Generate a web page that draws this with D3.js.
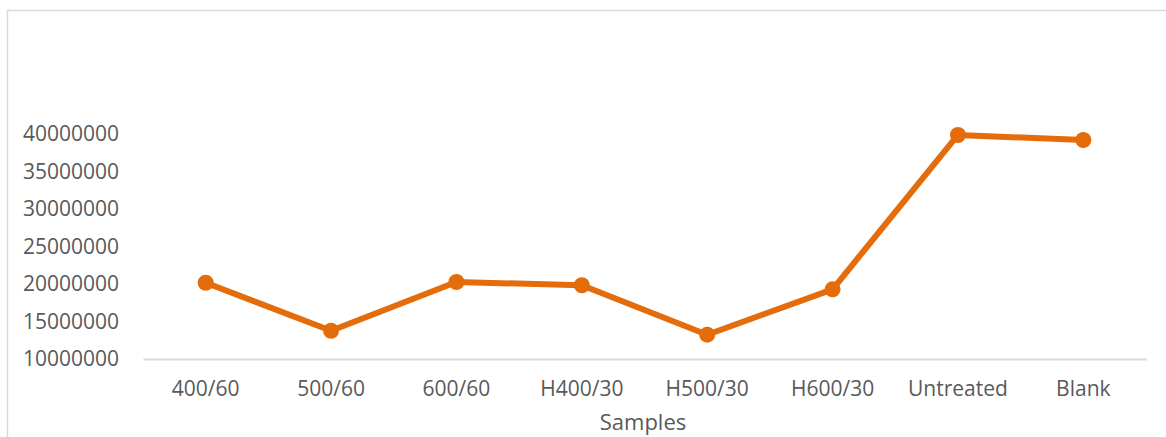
<!DOCTYPE html>
<html>
<head>
<meta charset="utf-8">
<script src="https://cdn.jsdelivr.net/npm/d3@7"></script>
<style>
  html, body { margin: 0; padding: 0; background: #fff; }
  svg { display: block; }
  text { font-family: "Open Sans", sans-serif; fill: #595959; }
</style>
</head>
<body>
<svg id="chart" width="1166" height="437"></svg>
<script>
// Sample names along the x axis
const categories = ["400/60", "500/60", "600/60", "H400/30", "H500/30", "H600/30", "Untreated", "Blank"];
// Measured value per sample
const values = [20170000, 13770000, 20270000, 19830000, 13240000, 19290000, 39870000, 39200000];
// Y axis tick values
const yTicks = [10000000, 15000000, 20000000, 25000000, 30000000, 35000000, 40000000];

const svg = d3.select("#chart");
const color = "#E46C0A";

// Outer chart frame
svg.append("rect")
  .attr("x", 7.5).attr("y", 10.5)
  .attr("width", 1200).attr("height", 500)
  .attr("fill", "none").attr("stroke", "#d9d9d9").attr("stroke-width", 1.5);

const x = d3.scaleBand().domain(categories).range([143, 1146]);
const y = d3.scaleLinear().domain([10000000, 40000000]).range([359, 134]);
const cx = d => x(d) + x.bandwidth() / 2;

// Category axis: only the baseline and the labels
const xAxis = svg.append("g")
  .attr("transform", "translate(0,359)")
  .call(d3.axisBottom(x).tickSize(0).tickPadding(22));
xAxis.select(".domain").attr("stroke", "#d9d9d9").attr("stroke-width", 2);
xAxis.selectAll("text").attr("font-size", 21).style("font-family", "'Open Sans', sans-serif").attr("fill", "#595959");

// Value axis: labels only
const yAxis = svg.append("g")
  .attr("transform", "translate(119,0)")
  .call(d3.axisLeft(y).tickValues(yTicks).tickFormat(d3.format("d")).tickSize(0).tickPadding(0));
yAxis.select(".domain").remove();
yAxis.selectAll("text").attr("font-size", 21).style("font-family", "'Open Sans', sans-serif").attr("fill", "#595959");

// Axis title
svg.append("text")
  .attr("x", 643).attr("y", 430)
  .attr("text-anchor", "middle")
  .attr("font-size", 22)
  .text("Samples");

// Series line
const line = d3.line().x((d, i) => cx(categories[i])).y(d => y(d));
svg.append("path")
  .datum(values)
  .attr("d", line)
  .attr("fill", "none")
  .attr("stroke", color)
  .attr("stroke-width", 6)
  .attr("stroke-linejoin", "round");

// Markers
svg.selectAll("circle.pt")
  .data(values)
  .enter().append("circle")
  .attr("class", "pt")
  .attr("cx", (d, i) => cx(categories[i]))
  .attr("cy", d => y(d))
  .attr("r", 8)
  .attr("fill", color);
</script>
</body>
</html>
